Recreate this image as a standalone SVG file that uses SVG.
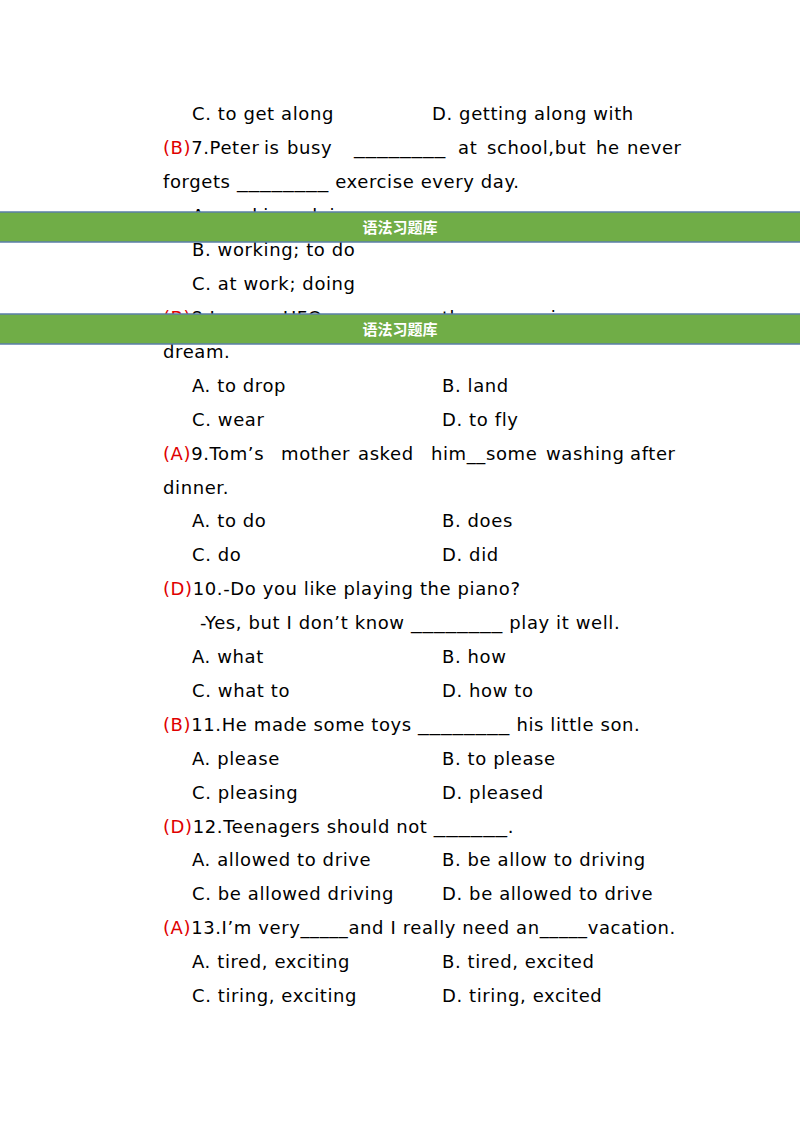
<svg xmlns="http://www.w3.org/2000/svg" width="800" height="1132" viewBox="0 0 800 1132">
<style>
text{font-family:"DejaVu Sans","Liberation Sans",sans-serif;font-size:18px;fill:#000;letter-spacing:0.6px}
.r{fill:#e00000}
.bn{fill:#70ad47;stroke:#5b7fa8;stroke-width:1.5}
.bt{font-family:"Noto Sans CJK SC",sans-serif;font-size:15px;font-weight:bold;fill:#fff;text-anchor:middle;letter-spacing:0}
</style>
<rect width="800" height="1132" fill="#fff"/>
<text x="192" y="120">C. to get along</text><text x="432" y="120">D. getting along with</text>
<text x="163" y="154"><tspan class="r">(B)</tspan>7.Peter</text>
<text x="264" y="154">is</text><text x="287" y="154">busy</text><text x="354" y="154" textLength="92" lengthAdjust="spacingAndGlyphs">________</text><text x="458" y="154">at</text><text x="487" y="154">school,but</text><text x="596" y="154">he</text><text x="627" y="154">never</text>
<text x="163" y="188">forgets <tspan textLength="92" lengthAdjust="spacingAndGlyphs">________</tspan> exercise every day.</text>
<text x="192" y="222">A. working; doing</text>
<text x="192" y="256">B. working; to do</text>
<text x="192" y="290">C. at work; doing</text>
<text x="163" y="324"><tspan class="r">(B)</tspan>8.I saw a UFO ________ on the square in my</text>
<text x="163" y="358">dream.</text>
<text x="192" y="392">A. to drop</text><text x="442" y="392">B. land</text>
<text x="192" y="426">C. wear</text><text x="442" y="426">D. to fly</text>
<text x="163" y="460"><tspan class="r">(A)</tspan>9.Tom’s</text><text x="281" y="460">mother</text><text x="358" y="460">asked</text><text x="431" y="460">him__some</text><text x="546" y="460">washing</text><text x="630" y="460">after</text>
<text x="163" y="494">dinner.</text>
<text x="192" y="527">A. to do</text><text x="442" y="527">B. does</text>
<text x="192" y="561">C. do</text><text x="442" y="561">D. did</text>
<text x="163" y="595"><tspan class="r">(D)</tspan>10.-Do you like playing the piano?</text>
<text x="200" y="629">-Yes, but I don’t know <tspan textLength="92" lengthAdjust="spacingAndGlyphs">________</tspan> play it well.</text>
<text x="192" y="663">A. what</text><text x="442" y="663">B. how</text>
<text x="192" y="697">C. what to</text><text x="442" y="697">D. how to</text>
<text x="163" y="731"><tspan class="r">(B)</tspan>11.He made some toys <tspan textLength="92" lengthAdjust="spacingAndGlyphs">________</tspan> his little son.</text>
<text x="192" y="765">A. please</text><text x="442" y="765">B. to please</text>
<text x="192" y="799">C. pleasing</text><text x="442" y="799">D. pleased</text>
<text x="163" y="833"><tspan class="r">(D)</tspan>12.Teenagers should not <tspan textLength="74" lengthAdjust="spacingAndGlyphs">______</tspan>.</text>
<text x="192" y="866">A. allowed to drive</text><text x="442" y="866">B. be allow to driving</text>
<text x="192" y="900">C. be allowed driving</text><text x="442" y="900">D. be allowed to drive</text>
<text x="163" y="934"><tspan class="r">(A)</tspan>13.I’m very_____and I really need an_____vacation.</text>
<text x="192" y="968">A. tired, exciting</text><text x="442" y="968">B. tired, excited</text>
<text x="192" y="1002">C. tiring, exciting</text><text x="442" y="1002">D. tiring, excited</text>
<g id="banner1"><rect class="bn" x="-2" y="212" width="804" height="30"/><text class="bt" x="400" y="233">语法习题库</text></g>
<g id="banner2"><rect class="bn" x="-2" y="314" width="804" height="30"/><text class="bt" x="400" y="335">语法习题库</text></g>
</svg>
